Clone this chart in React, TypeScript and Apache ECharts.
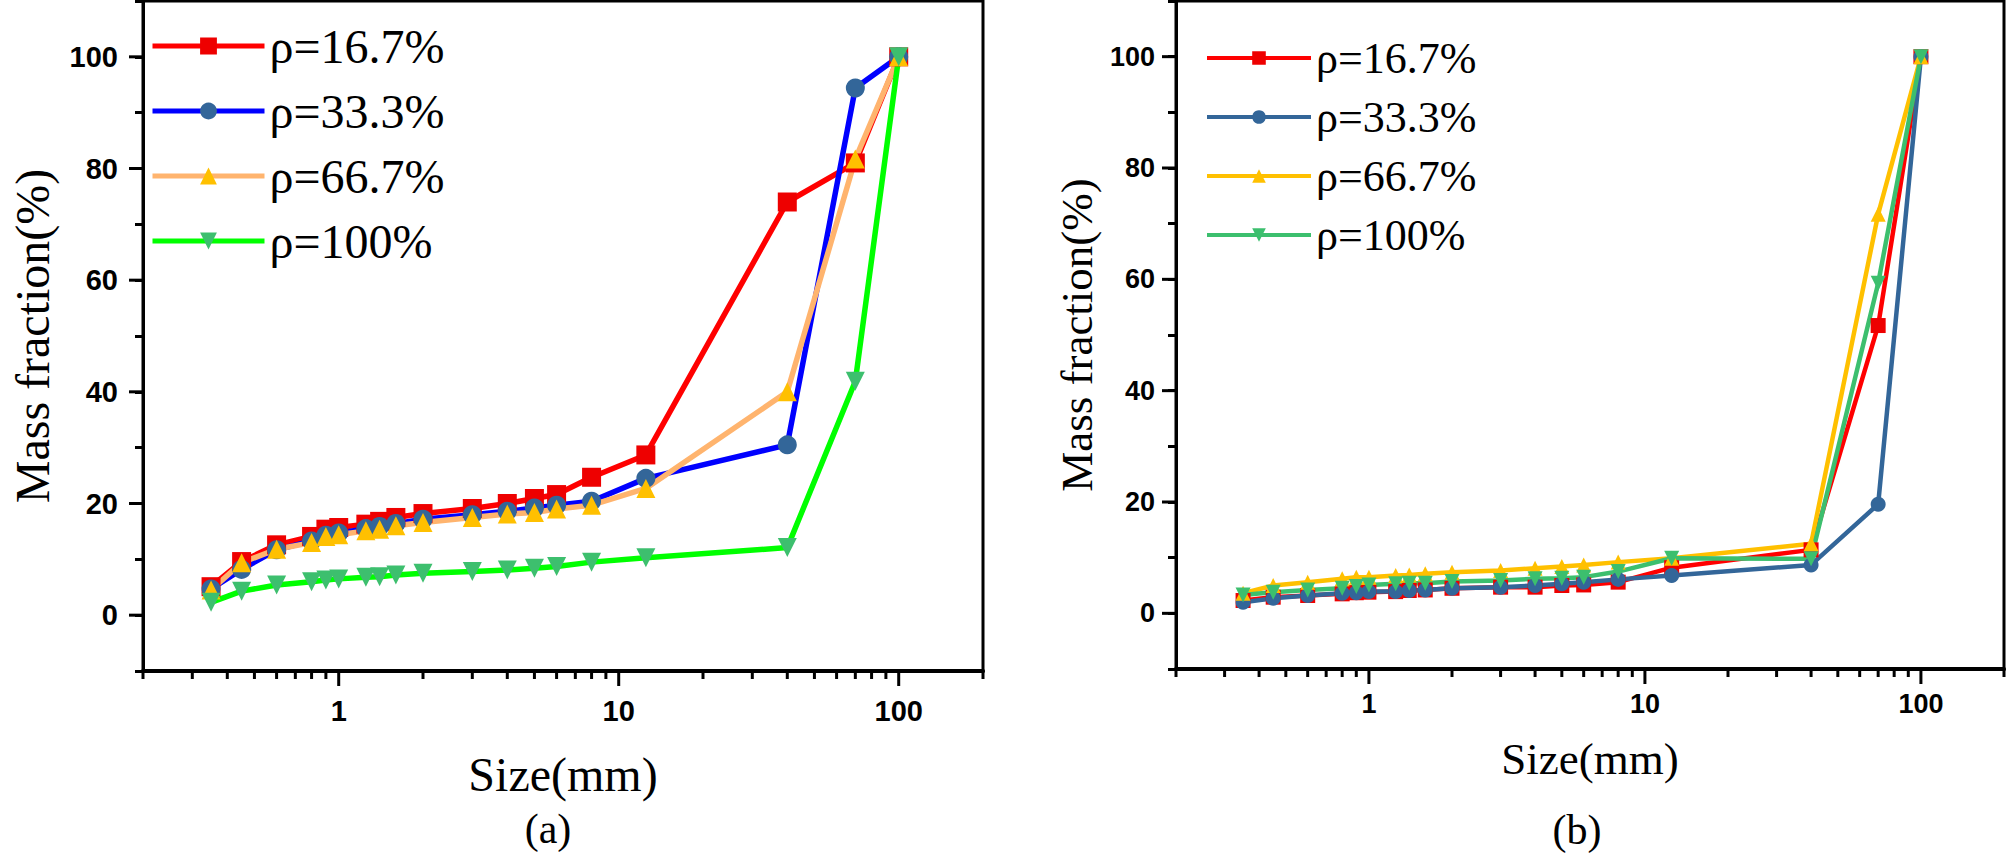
import React, { useEffect, useRef } from "react";
import * as echarts from "echarts";

// ---------- data ----------
const sizes = [0.35, 0.45, 0.6, 0.8, 0.9, 1, 1.25, 1.4, 1.6, 2, 3, 4, 5, 6, 8, 12.5, 40, 70, 100];
const legendNames = ["ρ=16.7%", "ρ=33.3%", "ρ=66.7%", "ρ=100%"];

const a_rho167 = [5.1, 9.6, 12.6, 14.1, 15.4, 15.7, 16.3, 16.8, 17.5, 18.2, 19.1, 20.0, 20.9, 21.6, 24.7, 28.7, 74.0, 81.0, 100];
const a_rho333 = [4.7, 8.2, 11.7, 13.3, 14.3, 14.7, 15.5, 15.9, 16.4, 17.2, 18.0, 18.6, 19.2, 19.7, 20.4, 24.5, 30.5, 94.4, 100];
const a_rho667 = [4.5, 9.4, 11.8, 13.0, 14.1, 14.4, 15.1, 15.4, 16.0, 16.6, 17.5, 18.1, 18.4, 19.0, 19.7, 22.7, 40.0, 81.7, 100];
const a_rho100 = [2.3, 4.3, 5.4, 6.0, 6.3, 6.5, 6.8, 6.9, 7.2, 7.5, 7.8, 8.1, 8.4, 8.7, 9.5, 10.3, 12.1, 41.9, 100];

const b_rho167 = [2.3, 2.9, 3.2, 3.5, 3.7, 3.8, 3.9, 4.1, 4.2, 4.5, 4.7, 4.7, 5.0, 5.1, 5.6, 8.2, 11.4, 51.7, 100];
const b_rho333 = [2.0, 2.7, 3.2, 3.6, 3.7, 3.9, 3.9, 4.1, 4.2, 4.5, 4.7, 5.0, 5.3, 5.6, 6.1, 6.8, 8.7, 19.6, 100];
const b_rho667 = [3.6, 5.0, 5.6, 6.2, 6.5, 6.5, 6.8, 6.9, 7.1, 7.4, 7.7, 8.1, 8.4, 8.7, 9.2, 9.9, 12.5, 71.7, 100];
const b_rho100 = [3.3, 3.8, 4.2, 4.5, 4.8, 5.1, 5.3, 5.4, 5.4, 5.7, 5.9, 6.2, 6.3, 6.5, 7.5, 9.9, 9.8, 59.3, 100];

const xMin = 0.2;
const xMax = 200;
const yMin = -10;
const yMax = 110;
const xLabelValues = [1, 10, 100];
const xMinorTicks = [0.2, 0.3, 0.4, 0.5, 0.6, 0.7, 0.8, 0.9, 2, 3, 4, 5, 6, 7, 8, 9, 20, 30, 40, 50, 60, 70, 80, 90, 200];
const yMajorTicks = [0, 20, 40, 60, 80, 100];

const xName = "Size(mm)";
const yName = "Mass fraction(%)";

type Panel = {
  series: number[][];
  lineColors: string[];
  markerColors: string[];
  lineWidth: number;
  symbolSize: number;
  grid: { left: number; top: number; width: number; height: number };
  labelSize: number;
  labelMarginX: number;
  labelMarginY: number;
  nameSize: number;
  xNameGap: number;
  yNameGap: number;
  legend: {
    left: number;
    top: number;
    itemWidth: number;
    itemHeight: number;
    itemGap: number;
    fontSize: number;
    lineWidth: number;
  };
  caption: string;
  captionX: number;
  captionY: number;
  captionSize: number;
};

const symbols = ["rect", "circle", "triangle", "triangle"];
const rotations = [0, 0, 0, 180];

function buildOption(p: Panel) {
  const lines = p.series.map((vals, i) => ({
    type: "line",
    name: legendNames[i],
    data: sizes.map((s, j) => [s, vals[j]]),
    symbol: symbols[i],
    symbolRotate: rotations[i],
    symbolSize: p.symbolSize,
    showAllSymbol: true,
    lineStyle: { color: p.lineColors[i], width: p.lineWidth },
    itemStyle: { color: p.markerColors[i] },
    z: 3,
  }));

  const xTickSeries = {
    type: "custom",
    silent: true,
    z: 10,
    data: [
      ...xLabelValues.map((v) => [v, 1]),
      ...xMinorTicks.map((v) => [v, 0]),
    ],
    renderItem: (_params: any, api: any) => {
      const v = api.value(0);
      const major = api.value(1) === 1;
      const pt = api.coord([v, yMin]);
      return {
        type: "line",
        shape: { x1: pt[0], y1: pt[1], x2: pt[0], y2: pt[1] + (major ? 15 : 8) },
        style: { stroke: "#000", lineWidth: 3 },
      };
    },
  };

  const yTickSeries = {
    type: "custom",
    silent: true,
    z: 10,
    data: yMajorTicks.map((v) => [xMin, v]),
    renderItem: (_params: any, api: any) => {
      const pt = api.coord([xMin, api.value(1)]);
      return {
        type: "line",
        shape: { x1: pt[0] - 14, y1: pt[1], x2: pt[0], y2: pt[1] },
        style: { stroke: "#000", lineWidth: 3 },
      };
    },
  };

  return {
    animation: false,
    backgroundColor: "#fff",
    grid: {
      ...p.grid,
      show: true,
      borderColor: "#000",
      borderWidth: 3,
      backgroundColor: "transparent",
      containLabel: false,
    },
    legend: {
      orient: "vertical",
      left: p.legend.left,
      top: p.legend.top,
      itemWidth: p.legend.itemWidth,
      itemHeight: p.legend.itemHeight,
      itemGap: p.legend.itemGap,
      data: legendNames,
      selectedMode: false,
      lineStyle: { width: p.legend.lineWidth },
      textStyle: {
        fontFamily: "Liberation Serif",
        fontSize: p.legend.fontSize,
        lineHeight: p.legend.fontSize,
        color: "#000",
      },
    },
    xAxis: {
      type: "log",
      logBase: 10,
      min: xMin,
      max: xMax,
      name: xName,
      nameLocation: "middle",
      nameGap: p.xNameGap,
      nameTextStyle: { fontFamily: "Liberation Serif", fontSize: p.nameSize, color: "#000" },
      axisLine: { show: true, onZero: false, lineStyle: { color: "#000", width: 4 } },
      axisTick: { show: false },
      splitLine: { show: false },
      minorTick: { show: false },
      axisLabel: {
        margin: p.labelMarginX,
        fontFamily: "Liberation Sans",
        fontWeight: "bold",
        fontSize: p.labelSize,
        color: "#000",
        showMinLabel: false,
        showMaxLabel: false,
        formatter: (v: number) => {
          const hit = xLabelValues.find((t) => Math.abs(v - t) / t < 1e-6);
          return hit !== undefined ? String(hit) : "";
        },
      },
    },
    yAxis: {
      type: "value",
      min: yMin,
      max: yMax,
      interval: 10,
      name: yName,
      nameLocation: "middle",
      nameRotate: 90,
      nameGap: p.yNameGap,
      nameTextStyle: { fontFamily: "Liberation Serif", fontSize: p.nameSize, color: "#000" },
      axisLine: { show: true, onZero: false, lineStyle: { color: "#000", width: 3 } },
      axisTick: { show: true, inside: false, length: 8, lineStyle: { color: "#000", width: 3 } },
      splitLine: { show: false },
      axisLabel: {
        margin: p.labelMarginY,
        fontFamily: "Liberation Sans",
        fontWeight: "bold",
        fontSize: p.labelSize,
        color: "#000",
        formatter: (v: number) => (yMajorTicks.includes(Math.round(v)) ? String(Math.round(v)) : ""),
      },
    },
    graphic: [
      {
        type: "text",
        x: p.captionX,
        y: p.captionY,
        style: {
          text: p.caption,
          fontFamily: "Liberation Serif",
          fontSize: p.captionSize,
          fill: "#000",
          textAlign: "center",
          textVerticalAlign: "middle",
        },
      },
    ],
    series: [...lines, xTickSeries, yTickSeries],
  };
}

const panelA: Panel = {
  series: [a_rho167, a_rho333, a_rho667, a_rho100],
  lineColors: ["#FF0000", "#0000FF", "#FFB46E", "#00FF00"],
  markerColors: ["#EE0000", "#336699", "#FFC000", "#3DBF6E"],
  lineWidth: 5.5,
  symbolSize: 19,
  grid: { left: 132, top: 1, width: 851, height: 670 },
  labelSize: 29,
  labelMarginX: 25,
  labelMarginY: 25,
  nameSize: 48,
  xNameGap: 79,
  yNameGap: 87,
  legend: { left: 145, top: 17, itemWidth: 112, itemHeight: 21, itemGap: 17, fontSize: 48, lineWidth: 5 },
  caption: "(a)",
  captionX: 548,
  captionY: 829,
  captionSize: 42,
};

const panelB: Panel = {
  series: [b_rho167, b_rho333, b_rho667, b_rho100],
  lineColors: ["#FF0000", "#336699", "#FFC000", "#3CBF6E"],
  markerColors: ["#EE0000", "#336699", "#FFC000", "#3CBF6E"],
  lineWidth: 4.5,
  symbolSize: 15,
  grid: { left: 136, top: 1, width: 828, height: 668 },
  labelSize: 27,
  labelMarginX: 21,
  labelMarginY: 21,
  nameSize: 45,
  xNameGap: 67,
  yNameGap: 76,
  legend: { left: 160, top: 31, itemWidth: 104, itemHeight: 17, itemGap: 15, fontSize: 44, lineWidth: 4 },
  caption: "(b)",
  captionX: 537,
  captionY: 830,
  captionSize: 42,
};

function ChartPanel({ panel, left, width }: { panel: Panel; left: number; width: number }) {
  const ref = useRef<HTMLDivElement>(null);
  useEffect(() => {
    if (!ref.current) return;
    const chart = echarts.init(ref.current, undefined, { renderer: "svg" });
    chart.setOption(buildOption(panel) as any);
    return () => chart.dispose();
  }, [panel]);
  return (
    <div
      ref={ref}
      style={{ position: "absolute", left, top: 0, width, height: 864 }}
    />
  );
}

export default function App() {
  return (
    <div
      style={{
        position: "fixed",
        left: 0,
        top: 0,
        width: 2008,
        height: 864,
        background: "#fff",
        overflow: "hidden",
      }}
    >
      <ChartPanel panel={panelA} left={0} width={1040} />
      <ChartPanel panel={panelB} left={1040} width={968} />
    </div>
  );
}
